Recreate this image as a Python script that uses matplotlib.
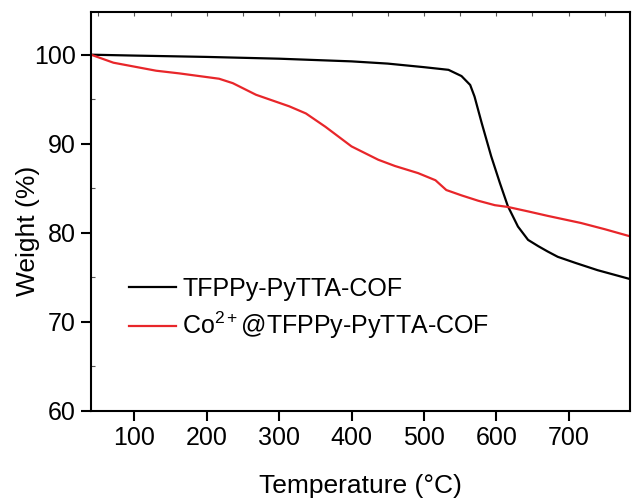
import numpy as np
import matplotlib.pyplot as plt
from matplotlib.ticker import MultipleLocator

plt.rcParams['font.family'] = ['Liberation Sans', 'DejaVu Sans']
plt.rcParams['mathtext.fontset'] = 'custom'
plt.rcParams['mathtext.rm'] = 'Liberation Sans'
plt.rcParams['mathtext.it'] = 'Liberation Sans'
plt.rcParams['mathtext.bf'] = 'Liberation Sans'

# TFPPy-PyTTA-COF (black)
tempCof = [40, 100, 200, 300, 400, 450, 500, 534, 552, 564, 570, 580, 593, 605, 616, 630,
           644, 658, 671, 685, 710, 740, 785]
wCof = [100.0, 99.9, 99.75, 99.55, 99.25, 99.0, 98.6, 98.3, 97.6, 96.6, 95.3, 92.3, 88.6,
        85.6, 83.0, 80.7, 79.2, 78.5, 77.9, 77.3, 76.6, 75.8, 74.8]

# Co2+@TFPPy-PyTTA-COF (red)
tempCo = [40, 71, 130, 162, 217, 236, 268, 314, 337, 364, 400, 437, 460, 492, 516, 531,
          552, 575, 598, 616, 644, 671, 717, 750, 785]
wCo = [100.0, 99.1, 98.2, 97.9, 97.3, 96.8, 95.5, 94.2, 93.4, 91.9, 89.7, 88.2, 87.5,
       86.7, 85.9, 84.8, 84.2, 83.6, 83.1, 82.9, 82.4, 81.9, 81.1, 80.4, 79.6]

fig = plt.figure(figsize=(6.32, 4.98), dpi=100)
ax = fig.add_axes([0.144, 0.175, 0.853, 0.801])

ax.plot(tempCof, wCof, color='black', lw=1.6, label='TFPPy-PyTTA-COF')
ax.plot(tempCo, wCo, color='#e8262a', lw=1.6, label=r'Co$^{\mathrm{2+}}$@TFPPy-PyTTA-COF')

ax.set_xlim(40, 785)
ax.set_ylim(60, 104.8)
ax.set_xticks([100, 200, 300, 400, 500, 600, 700])
ax.set_yticks([60, 70, 80, 90, 100])
ax.yaxis.set_minor_locator(MultipleLocator(5))

for s in ax.spines.values():
    s.set_linewidth(1.5)

ax.tick_params(axis='both', which='major', direction='out', length=7, width=1.5,
               labelsize=18, pad=4)
ax.tick_params(axis='y', which='minor', direction='in', length=3, width=0.8, color='#555555')

# small inward ticks along the top
top = ax.secondary_xaxis('top')
top.set_xticks(np.arange(50, 785, 50))
top.tick_params(direction='in', length=3, width=0.8, color='#555555', labeltop=False)
top.spines['top'].set_visible(False)

ax.set_xlabel('Temperature (°C)', fontsize=19, labelpad=17)
ax.set_ylabel('Weight (%)', fontsize=19)
ax.yaxis.set_label_coords(-0.095, 0.45)

ax.legend(loc='upper left', bbox_to_anchor=(0.051, 0.36), frameon=False, fontsize=18,
          handlelength=1.9, handletextpad=0.25, labelspacing=0.35, borderaxespad=0)

fig.savefig('out.png', dpi=100)
